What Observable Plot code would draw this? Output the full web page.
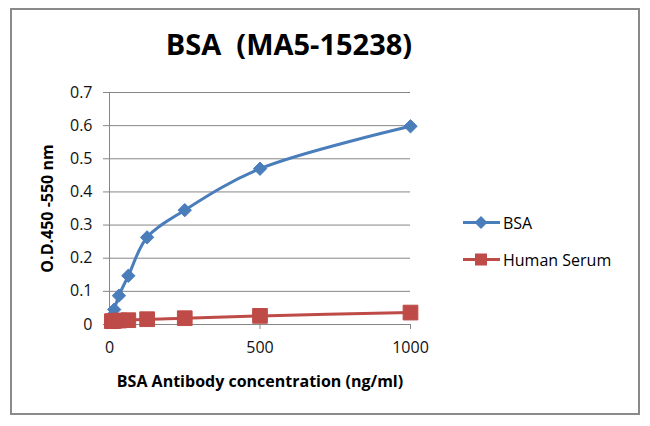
<!DOCTYPE html>
<html>
<head>
<meta charset="utf-8">
<script src="https://cdn.jsdelivr.net/npm/d3@7"></script>
<script src="https://cdn.jsdelivr.net/npm/@observablehq/plot@0.6"></script>
<style>
  html, body { margin: 0; padding: 0; background: #fff; }
  #wrap { position: relative; width: 650px; height: 426px; overflow: hidden; font-family: "Open Sans", sans-serif; }
  #frame { position: absolute; left: 10px; top: 8px; width: 626px; height: 403px; border: 2px solid #8a8a8a; }
  #title { position: absolute; left: 0; width: 578px; top: 24px; text-align: center; font-weight: bold; font-size: 29px; color: #000; white-space: pre; }
  #chart { position: absolute; left: 0; top: 0; }
  #legend { position: absolute; left: 462px; top: 211px; font-size: 16px; color: #000; }
  .item { display: flex; align-items: center; height: 24px; margin-bottom: 13px; }
  .item svg { margin-right: 2px; }
  g[aria-label="x-axis label"] text, g[aria-label="y-axis label"] text { font-weight: bold; }
  g[aria-label="y-axis tick label"] text, g[aria-label="x-axis tick label"] text { fill: #111; }
</style>
</head>
<body>
<div id="wrap">
  <div id="frame"></div>
  <div id="title"></div>
  <div id="chart"></div>
  <div id="legend"></div>
</div>
<script>
// ---- data ----
const titleText = "BSA  (MA5-15238)";
const xLabel = "BSA Antibody concentration (ng/ml)";
const yLabel = "O.D.450 -550 nm";
const seriesNames = ["BSA", "Human Serum"];
const seriesColors = ["#4a7ebb", "#be4b48"];
const concentration = [1000, 500, 250, 125, 62.5, 31.25, 15.6, 7.8];
const bsaValues = [0.598, 0.470, 0.345, 0.263, 0.147, 0.087, 0.045, 0.025];
const serumValues = [0.036, 0.026, 0.019, 0.016, 0.013, 0.012, 0.011, 0.010];
const xTicks = [0, 500, 1000];
const yTicks = [0, 0.1, 0.2, 0.3, 0.4, 0.5, 0.6, 0.7];

// ---- build table ----
const rows = [];
concentration.forEach((c, i) => {
  rows.push({series: seriesNames[0], x: c, y: bsaValues[i]});
  rows.push({series: seriesNames[1], x: c, y: serumValues[i]});
});
const bsaRows = rows.filter(d => d.series === seriesNames[0]).sort((a, b) => a.x - b.x);
const serumRows = rows.filter(d => d.series === seriesNames[1]).sort((a, b) => a.x - b.x);

document.getElementById("title").textContent = titleText;

const gray = "#868686";
const chart = Plot.plot({
  width: 650,
  height: 426,
  marginLeft: 109,
  marginRight: 240,
  marginTop: 92,
  marginBottom: 102,
  style: {fontFamily: "Open Sans, sans-serif", fontSize: "16px", color: "#000", background: "transparent"},
  x: {domain: [0, 1000]},
  y: {domain: [0, 0.7]},
  marks: [
    Plot.gridY(yTicks.slice(1), {stroke: gray, strokeOpacity: 1}),
    Plot.ruleX([0], {stroke: gray}),
    Plot.ruleY([0], {stroke: gray}),
    Plot.axisY(yTicks, {tickFormat: d3.format("~g"), tickSize: 6, tickPadding: 11, stroke: gray, strokeOpacity: 1,
      label: yLabel, labelAnchor: "center", labelArrow: "none", labelOffset: 68}),
    Plot.axisX(xTicks, {tickFormat: d3.format("d"), tickSize: 5, tickPadding: 12, stroke: gray, strokeOpacity: 1,
      label: xLabel, labelAnchor: "center", labelArrow: "none", labelOffset: 62}),
    Plot.line(serumRows, {x: "x", y: "y", stroke: seriesColors[1], strokeWidth: 3, curve: "catmull-rom"}),
    Plot.line(bsaRows, {x: "x", y: "y", stroke: seriesColors[0], strokeWidth: 3, curve: "catmull-rom"}),
    Plot.dot(bsaRows, {x: "x", y: "y", symbol: "diamond2", r: 6, fill: seriesColors[0], stroke: seriesColors[0], strokeWidth: 1}),
    Plot.dot(serumRows, {x: "x", y: "y", symbol: "square", r: 8.3, fill: seriesColors[1], stroke: seriesColors[1], strokeWidth: 1})
  ]
});
document.getElementById("chart").appendChild(chart);

// ---- legend ----
const legend = document.getElementById("legend");
seriesNames.forEach((name, i) => {
  const item = document.createElement("div");
  item.className = "item";
  const sym = i === 0
    ? `<path d="M19,5 L25.5,11.5 L19,18 L12.5,11.5Z" fill="${seriesColors[i]}"/>`
    : `<rect x="13" y="5.5" width="12" height="12" fill="${seriesColors[i]}"/>`;
  item.innerHTML = `<svg width="39" height="24"><line x1="1" x2="38" y1="11.5" y2="11.5" stroke="${seriesColors[i]}" stroke-width="3"/>${sym}</svg><span>${name}</span>`;
  legend.appendChild(item);
});
</script>
</body>
</html>
